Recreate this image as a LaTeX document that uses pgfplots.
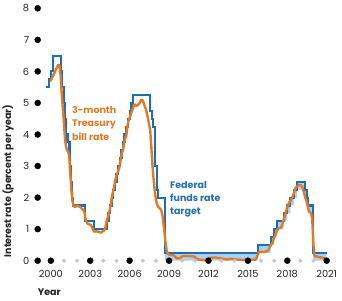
\documentclass[border=0pt]{standalone}
\usepackage{pgfplots}
\pgfplotsset{compat=1.18}
\usepackage{fontspec}
\setmainfont{Poppins}

\definecolor{fedblue}{HTML}{1F6DB5}
\definecolor{bandblue}{HTML}{A9D2F2}
\definecolor{tbill}{HTML}{E07A27}
\definecolor{dotgray}{HTML}{C8C8C8}
\definecolor{ink}{HTML}{222222}

\begin{document}
\begin{tikzpicture}
\useasboundingbox (-37.7pt,-39.3pt) rectangle (304.3pt,260.7pt);
\begin{axis}[
  scale only axis, width=289pt, height=252.4pt,
  at={(0,0)}, anchor=south west,
  xmin=1999, xmax=2021, ymin=0, ymax=8,
  axis line style={draw=none},
  major tick length=0pt,
  xtick={2000,2003,...,2021},
  xticklabels={2000,2003,2006,2009,2012,2015,2018,2021},
  ytick={0,...,8},
  tick label style={font=\fontsize{9.8}{10}\selectfont, text=ink},
  yticklabel style={xshift=-5pt},
  xticklabel style={yshift=-6pt},
  /pgf/number format/assume math mode=true,
  clip=false,
]

% target range since December 2008 (lower to upper bound)
\addplot[fill=bandblue, draw=none] coordinates {
  (2008.67,0.25) (2015.74,0.25) (2015.74,0.5) (2016.73,0.5) (2016.73,0.75)
  (2016.98,0.75) (2016.98,1.0) (2017.23,1.0) (2017.23,1.25) (2017.73,1.25)
  (2017.73,1.5) (2018.00,1.5) (2018.00,1.75) (2018.23,1.75) (2018.23,2.0)
  (2018.52,2.0) (2018.52,2.25) (2018.75,2.25) (2018.75,2.5) (2019.36,2.5)
  (2019.36,2.25) (2019.49,2.25) (2019.49,2.0) (2019.61,2.0) (2019.61,1.75)
  (2019.95,1.75) (2019.95,1.25) (2019.98,1.25) (2019.98,0.25) (2021,0.25)
  (2021,0) (2019.98,0) (2019.98,1.0) (2019.95,1.0) (2019.95,1.5)
  (2019.61,1.5) (2019.61,1.75) (2019.49,1.75) (2019.49,2.0) (2019.36,2.0)
  (2019.36,2.25) (2018.75,2.25) (2018.75,2.0) (2018.52,2.0) (2018.52,1.75)
  (2018.23,1.75) (2018.23,1.5) (2018.00,1.5) (2018.00,1.25) (2017.73,1.25)
  (2017.73,1.0) (2017.23,1.0) (2017.23,0.75) (2016.98,0.75) (2016.98,0.5)
  (2016.73,0.5) (2016.73,0.25) (2015.74,0.25) (2015.74,0) (2008.67,0)
} -- cycle;

% federal funds rate target (upper bound), held until the next change
\addplot[const plot, fedblue, line width=2.1pt, line join=miter] coordinates {
  (1999.65,5.5) (1999.87,5.75) (2000.00,6.0) (2000.15,6.5) (2000.79,6.0)
  (2000.86,5.5) (2000.99,5.0) (2001.08,4.5) (2001.15,4.0) (2001.27,3.75)
  (2001.42,3.5) (2001.49,3.0) (2001.53,2.5) (2001.63,2.0) (2001.72,1.75)
  (2002.63,1.25) (2003.26,1.0) (2004.27,1.25) (2004.39,1.5) (2004.50,1.75)
  (2004.64,2.0) (2004.73,2.25) (2004.87,2.5) (2005.00,2.75) (2005.11,3.0)
  (2005.27,3.25) (2005.38,3.5) (2005.50,3.75) (2005.61,4.0) (2005.73,4.25)
  (2005.86,4.5) (2006.02,4.75) (2006.14,5.0) (2006.27,5.25) (2007.58,4.75)
  (2007.70,4.5) (2007.80,4.25) (2007.93,3.5) (2007.96,3.0) (2008.05,2.25)
  (2008.15,2.0) (2008.67,0.25) (2015.74,0.5) (2016.73,0.75) (2016.98,1.0)
  (2017.23,1.25) (2017.73,1.5) (2018.00,1.75) (2018.23,2.0) (2018.52,2.25)
  (2018.75,2.5) (2019.36,2.25) (2019.49,2.0) (2019.61,1.75) (2019.95,1.25)
  (2019.98,0.25) (2021.00,0.25)
};

% 3-month Treasury bill rate, monthly (lightly smoothed)
\addplot[tbill, line width=2.4pt, line join=round, line cap=round] coordinates {
  (1999.99,5.70) (2000.07,5.78) (2000.15,5.85) (2000.24,5.92) (2000.32,6.00)
  (2000.40,6.08) (2000.49,6.15) (2000.57,6.21) (2000.65,6.20) (2000.74,5.90)
  (2000.82,5.35) (2000.90,4.90) (2000.99,4.42) (2001.07,3.90) (2001.15,3.62)
  (2001.24,3.50) (2001.32,3.46) (2001.40,3.30) (2001.49,2.70) (2001.57,2.20)
  (2001.65,1.88) (2001.74,1.74)
  (2001.82,1.70) (2001.90,1.72) (2001.99,1.75) (2002.07,1.73) (2002.15,1.72)
  (2002.24,1.70) (2002.32,1.67) (2002.40,1.63) (2002.49,1.60) (2002.57,1.52)
  (2002.65,1.30) (2002.74,1.20)
  (2002.82,1.17) (2002.90,1.16) (2002.99,1.14) (2003.07,1.12) (2003.15,1.05)
  (2003.24,0.95) (2003.32,0.92) (2003.40,0.93) (2003.49,0.93) (2003.57,0.92)
  (2003.65,0.92) (2003.74,0.90)
  (2003.82,0.89) (2003.90,0.92) (2003.99,0.94) (2004.07,0.96) (2004.15,1.05)
  (2004.24,1.24) (2004.32,1.35) (2004.40,1.48) (2004.49,1.64) (2004.57,1.80)
  (2004.65,2.03) (2004.74,2.19)
  (2004.82,2.35) (2004.90,2.54) (2004.99,2.70) (2005.07,2.78) (2005.15,2.86)
  (2005.24,3.00) (2005.32,3.22) (2005.40,3.40) (2005.49,3.50) (2005.57,3.70)
  (2005.65,3.86) (2005.74,3.95)
  (2005.82,4.22) (2005.90,4.42) (2005.99,4.52) (2006.07,4.61) (2006.15,4.72)
  (2006.24,4.82) (2006.32,4.92) (2006.40,4.95) (2006.49,4.90) (2006.57,4.92)
  (2006.65,4.95) (2006.74,4.98)
  (2006.82,5.05) (2006.90,5.10) (2006.99,5.08) (2007.07,5.00) (2007.15,4.90)
  (2007.24,4.80) (2007.32,4.65) (2007.40,4.50) (2007.49,4.30) (2007.57,4.10)
  (2007.65,3.60) (2007.74,3.00)
  (2007.82,2.60) (2007.90,2.25) (2007.99,1.95) (2008.07,1.80) (2008.15,1.72)
  (2008.24,1.68) (2008.32,1.65) (2008.40,1.60) (2008.49,1.45) (2008.57,1.20)
  (2008.65,0.90) (2008.74,0.55)
  (2008.82,0.30) (2008.90,0.22) (2008.99,0.20) (2009.07,0.18) (2009.15,0.18)
  (2009.24,0.18) (2009.32,0.17) (2009.40,0.15) (2009.49,0.12) (2009.57,0.09)
  (2009.65,0.07) (2009.74,0.07)
  (2009.82,0.08) (2009.90,0.11) (2009.99,0.13) (2010.07,0.15) (2010.15,0.15)
  (2010.24,0.15) (2010.32,0.15) (2010.40,0.15) (2010.49,0.15) (2010.57,0.14)
  (2010.65,0.14) (2010.74,0.14)
  (2010.82,0.14) (2010.90,0.13) (2010.99,0.10) (2011.07,0.07) (2011.15,0.05)
  (2011.24,0.04) (2011.32,0.03) (2011.40,0.03) (2011.49,0.02) (2011.57,0.02)
  (2011.65,0.02) (2011.74,0.02)
  (2011.82,0.04) (2011.90,0.06) (2011.99,0.08) (2012.07,0.08) (2012.15,0.09)
  (2012.24,0.09) (2012.32,0.10) (2012.40,0.10) (2012.49,0.10) (2012.57,0.10)
  (2012.65,0.09) (2012.74,0.08)
  (2012.82,0.08) (2012.90,0.08) (2012.99,0.08) (2013.07,0.06) (2013.15,0.05)
  (2013.24,0.05) (2013.32,0.04) (2013.40,0.04) (2013.49,0.04) (2013.57,0.05)
  (2013.65,0.06) (2013.74,0.06)
  (2013.82,0.05) (2013.90,0.05) (2013.99,0.04) (2014.07,0.04) (2014.15,0.04)
  (2014.24,0.03) (2014.32,0.03) (2014.40,0.03) (2014.49,0.03) (2014.57,0.02)
  (2014.65,0.02) (2014.74,0.03)
  (2014.82,0.03) (2014.90,0.03) (2014.99,0.03) (2015.07,0.02) (2015.15,0.02)
  (2015.24,0.03) (2015.32,0.03) (2015.40,0.04) (2015.49,0.03) (2015.57,0.03)
  (2015.65,0.08) (2015.74,0.18)
  (2015.82,0.26) (2015.90,0.28) (2015.99,0.28) (2016.07,0.27) (2016.15,0.27)
  (2016.24,0.27) (2016.32,0.29) (2016.40,0.30) (2016.49,0.30) (2016.57,0.34)
  (2016.65,0.42) (2016.74,0.50)
  (2016.82,0.52) (2016.90,0.60) (2016.99,0.72) (2017.07,0.80) (2017.15,0.89)
  (2017.24,0.97) (2017.32,1.02) (2017.40,1.03) (2017.49,1.04) (2017.57,1.08)
  (2017.65,1.20) (2017.74,1.32)
  (2017.82,1.42) (2017.90,1.56) (2017.99,1.68) (2018.07,1.77) (2018.15,1.85)
  (2018.24,1.90) (2018.32,1.96) (2018.40,2.03) (2018.49,2.13) (2018.57,2.24)
  (2018.65,2.32) (2018.74,2.36)
  (2018.82,2.38) (2018.90,2.40) (2018.99,2.40) (2019.07,2.38) (2019.15,2.33)
  (2019.24,2.20) (2019.32,2.08) (2019.40,1.96) (2019.49,1.86) (2019.57,1.68)
  (2019.65,1.56) (2019.74,1.53)
  (2019.82,1.50) (2019.90,1.30) (2019.99,0.50) (2020.07,0.16) (2020.15,0.13)
  (2020.24,0.14) (2020.32,0.13) (2020.40,0.11) (2020.49,0.11) (2020.57,0.10)
  (2020.65,0.10) (2020.74,0.09) (2020.82,0.08) (2020.90,0.07) (2021.00,0.03)
};

% axis dots: years between labels in light grey
\addplot[only marks, mark=*, mark size=1.9pt, dotgray, mark options={draw=none}] coordinates {
  (2001,0) (2002,0) (2004,0) (2005,0) (2007,0) (2008,0) (2010,0) (2011,0)
  (2013,0) (2014,0) (2016,0) (2017,0) (2019,0) (2020,0)
};
% labelled years and vertical-axis values in black
\addplot[only marks, mark=*, mark size=3pt, black, mark options={draw=none}] coordinates {
  (2000,0) (2003,0) (2006,0) (2009,0) (2012,0) (2015,0) (2018,0) (2021,0)
  (1999,0) (1999,1) (1999,2) (1999,3) (1999,4) (1999,5) (1999,6) (1999,7) (1999,8)
};

% series labels
\begin{scope}[font=\fontsize{9.5}{10}\selectfont\bfseries]
\node[anchor=base west, inner sep=0, text=tbill] at (axis cs:2001.61,4.68) {3-month};
\node[anchor=base west, inner sep=0, text=tbill] at (axis cs:2001.61,4.24) {Treasury};
\node[anchor=base west, inner sep=0, text=tbill] at (axis cs:2001.61,3.80) {bill rate};
\node[anchor=base west, inner sep=0, text=fedblue] at (axis cs:2009.07,2.30) {Federal};
\node[anchor=base west, inner sep=0, text=fedblue] at (axis cs:2009.07,1.88) {funds rate};
\node[anchor=base west, inner sep=0, text=fedblue] at (axis cs:2009.07,1.45) {target};
\end{scope}
\end{axis}

% axis titles
\node[anchor=base west, inner sep=0, text=ink, font=\fontsize{9.5}{10}\selectfont\bfseries] at (0pt,-34.3pt) {Year};
\node[rotate=90, inner sep=0, text=ink, font=\fontsize{9.5}{10}\selectfont\bfseries] at (-29.7pt,79.7pt) {Interest rate (percent per year)};
\end{tikzpicture}
\end{document}
